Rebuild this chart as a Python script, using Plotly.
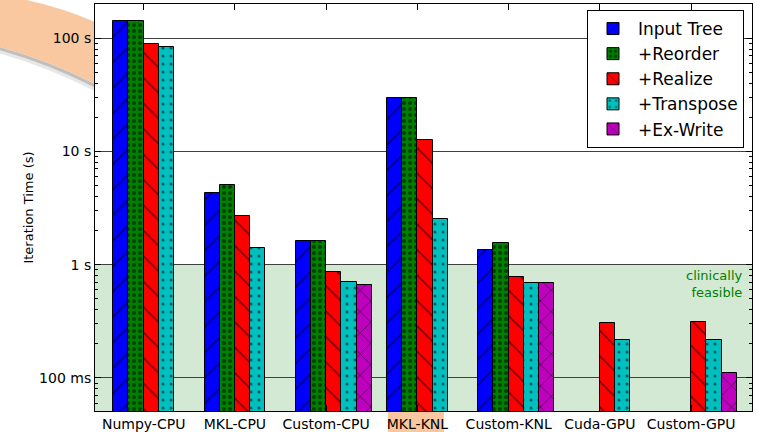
import plotly.graph_objects as go

categories = ["Numpy-CPU", "MKL-CPU", "Custom-CPU", "MKL-KNL", "Custom-KNL", "Cuda-GPU", "Custom-GPU"]
series_names = ["Input Tree", "+Reorder", "+Realize", "+Transpose", "+Ex-Write"]
input_tree = [141, 4.28, 1.62, 29.3, 1.36, None, None]
reorder = [143, 5.03, 1.63, 29.3, 1.56, None, None]
realize = [88.5, 2.71, 0.861, 12.7, 0.778, 0.305, 0.309]
transpose = [82.8, 1.41, 0.707, 2.54, 0.693, 0.216, 0.216]
ex_write = [None, None, 0.661, None, 0.693, None, 0.111]
ytick_vals = [0.1, 1, 10, 100]
ytick_text = ["100 ms", "1 s", "10 s", "100 s"]
feasible_limit = 1.0

series_values = [input_tree, reorder, realize, transpose, ex_write]
colors = ["#0000ff", "#008000", "#ff0000", "#00bfbf", "#bf00bf"]
patterns = [
    dict(shape="/", size=18, solidity=0.09),
    dict(shape=".", size=6, solidity=0.35),
    dict(shape="\\", size=18, solidity=0.09),
    dict(shape=".", size=8, solidity=0.12),
    dict(shape="x", size=15, solidity=0.12),
]

W = 1.0 / 6
FONT = "DejaVu Sans"

fig = go.Figure()
for k, (name, vals) in enumerate(zip(series_names, series_values)):
    xs = [i for i, v in enumerate(vals) if v is not None]
    ys = [v for v in vals if v is not None]
    pat = dict(patterns[k])
    pat.update(fgcolor="black", bgcolor=colors[k], fillmode="overlay")
    fig.add_trace(go.Bar(
        x=xs, y=ys, name=name, width=W, offset=k * W,
        legendgroup=name,
        marker=dict(color=colors[k], line=dict(color="black", width=1), pattern=pat),
    ))

L, R, T, B = 95, 752, 4, 411
PW, PH = R - L, B - T

def P(px, py):
    return f"{(px - L) / PW:.4f},{(B - py) / PH:.4f}"

shapes = [
    # clinically feasible region
    dict(type="rect", xref="paper", yref="y", x0=0, x1=1, y0=0.01, y1=feasible_limit,
         fillcolor="#d4e9d4", line=dict(width=0), layer="below"),
    # soft shadow of swoosh
    dict(type="path", xref="paper", yref="paper", layer="below",
         path=f"M {P(95,84)} Q {P(40,56)} {P(-20,42)} L {P(-20,48)} Q {P(40,63)} {P(95,91)} Z",
         fillcolor="rgba(120,120,120,0.18)", line=dict(width=0)),
    dict(type="path", xref="paper", yref="paper", layer="below",
         path=f"M {P(95,84)} Q {P(40,56)} {P(-20,42)} L {P(-20,45)} Q {P(40,59.5)} {P(95,87.5)} Z",
         fillcolor="rgba(100,100,100,0.3)", line=dict(width=0)),
    # orange swoosh
    dict(type="path", xref="paper", yref="paper", layer="below",
         path=f"M {P(-20,-8)} Q {P(45,0)} {P(95,22)} L {P(95,84)} Q {P(40,56)} {P(-20,42)} Z",
         fillcolor="#f9c8a0", line=dict(width=0)),
    # highlight behind MKL-KNL label
    dict(type="rect", xref="paper", yref="paper", layer="below",
         x0=(388 - L) / PW, x1=(444 - L) / PW, y0=(B - 432) / PH, y1=0,
         fillcolor="#f9c8a0", line=dict(width=0)),
]

minor_vals = [m * 10 ** e for e in range(-2, 3) for m in range(2, 10)]

fig.update_layout(
    width=757, height=432,
    margin=dict(l=L, r=757 - R, t=T, b=432 - B, autoexpand=False),
    paper_bgcolor="white", plot_bgcolor="white",
    font=dict(family=FONT, size=14, color="black"),
    barmode="overlay",
    bargap=0,
    showlegend=True,
    legend=dict(x=(744 - L) / PW, y=(B - 10) / PH, xanchor="right", yanchor="top",
                bgcolor="white", bordercolor="black", borderwidth=1,
                font=dict(family=FONT, size=17), tracegroupgap=0,
                itemwidth=40),
    shapes=shapes,
    annotations=[
        dict(text="clinically<br>feasible", xref="paper", yref="y", x=(745 - L) / PW, y=0,
             xanchor="right", yanchor="top", yshift=-1, showarrow=False, align="right",
             font=dict(family=FONT, size=13, color="#008000")),
    ],
)

fig.update_xaxes(
    range=[-0.2, 7.0], automargin=False,
    tickmode="array", tickvals=[i + 2 * W for i in range(len(categories))], ticktext=categories,
    ticks="inside", ticklen=6, tickcolor="black",
    showline=True, linecolor="black", linewidth=1, mirror="allticks",
    showgrid=False, zeroline=False,
    tickfont=dict(family=FONT, size=14),
)

fig.update_yaxes(
    type="log", range=[-1.292, 2.301], automargin=False,
    tickmode="array", tickvals=ytick_vals, ticktext=ytick_text,
    ticks="inside", ticklen=6, tickcolor="black",
    showline=True, linecolor="black", linewidth=1, mirror="allticks",
    showgrid=True, gridcolor="#404040", gridwidth=1,
    minor=dict(tickmode="array", tickvals=minor_vals, ticks="inside", ticklen=3,
               tickcolor="black", showgrid=False),
    tickfont=dict(family=FONT, size=14),
    title=dict(text="Iteration Time (s)", font=dict(family=FONT, size=13), standoff=2),
)

fig.write_html("out.html", config={"displayModeBar": False},
               post_script="document.body.style.margin='0px';")
